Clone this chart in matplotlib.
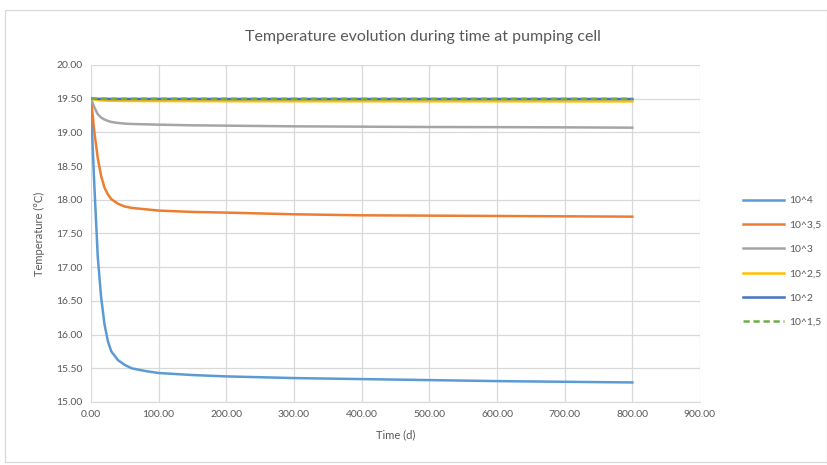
import numpy as np
import matplotlib.pyplot as plt
from matplotlib.patches import Rectangle

# time (days)
t = [0, 2, 5, 10, 15, 20, 25, 30, 40, 50, 60, 80, 100, 150, 200, 300, 400, 500, 600, 700, 800]

# temperature at pumping cell (°C) for each permeability case
T_4 = [19.5, 18.9, 18.2, 17.15, 16.55, 16.15, 15.9, 15.75, 15.62, 15.55, 15.5, 15.46, 15.43,
       15.40, 15.38, 15.355, 15.34, 15.325, 15.31, 15.30, 15.29]
T_35 = [19.5, 19.3, 19.0, 18.62, 18.35, 18.18, 18.08, 18.01, 17.94, 17.9, 17.88, 17.86, 17.84,
        17.82, 17.81, 17.785, 17.77, 17.765, 17.76, 17.755, 17.75]
T_3 = [19.5, 19.45, 19.37, 19.27, 19.22, 19.19, 19.17, 19.155, 19.14, 19.13, 19.125, 19.12, 19.115,
       19.105, 19.1, 19.09, 19.085, 19.08, 19.078, 19.075, 19.07]
T_25 = [19.5, 19.495, 19.49, 19.48, 19.475, 19.472, 19.47, 19.469, 19.468, 19.467, 19.466, 19.465, 19.465,
        19.464, 19.463, 19.462, 19.462, 19.461, 19.461, 19.46, 19.46]
T_2 = [19.5, 19.5, 19.499, 19.498, 19.497, 19.497, 19.497, 19.496, 19.496, 19.496, 19.496, 19.496, 19.496,
       19.496, 19.495, 19.495, 19.495, 19.495, 19.495, 19.495, 19.495]
T_15 = [19.5, 19.5, 19.5, 19.5, 19.5, 19.5, 19.5, 19.499, 19.499, 19.499, 19.499, 19.499, 19.499,
        19.499, 19.499, 19.499, 19.498, 19.498, 19.498, 19.498, 19.498]

labels = ["10^4", "10^3,5", "10^3", "10^2,5", "10^2", "10^1,5"]
xticks = np.arange(0, 901, 100)
yticks = np.arange(15.0, 20.01, 0.5)

plt.rcParams['font.family'] = ['Lato', 'DejaVu Sans']
txt = '#595959'

fig = plt.figure(figsize=(8.28, 4.65), dpi=100)
ax = fig.add_axes([91/828, 1 - 402/465, 609/828, 337/465])

ax.plot(t, T_4, color='#5B9BD5', lw=1.8, label=labels[0])
ax.plot(t, T_35, color='#ED7D31', lw=1.8, label=labels[1])
ax.plot(t, T_3, color='#A5A5A5', lw=1.8, label=labels[2])
ax.plot(t, T_25, color='#FFC000', lw=1.8, label=labels[3])
ax.plot(t, T_2, color='#4472C4', lw=1.8, label=labels[4])
ax.plot(t, T_15, color='#70AD47', lw=1.8, ls=(0, (2.5, 1.5)), label=labels[5])

ax.set_xlim(0, 900)
ax.set_ylim(15, 20)
ax.set_xticks(xticks)
ax.set_yticks(yticks)
ax.set_xticklabels([f"{v:.2f}" for v in xticks])
ax.set_yticklabels([f"{v:.2f}" for v in yticks])
ax.tick_params(length=0, labelsize=7.5, labelcolor=txt, pad=6)
ax.grid(True, color='#D9D9D9', lw=0.9)
ax.set_axisbelow(True)
for s in ax.spines.values():
    s.set_visible(False)
ax.spines['bottom'].set_visible(True)
ax.spines['bottom'].set_color('#D9D9D9')

ax.set_xlabel("Time (d)", fontsize=8, color=txt, labelpad=7)
ax.set_ylabel("Temperature (°C)", fontsize=8, color=txt, labelpad=8)
fig.text(423/828, 1 - 37/465, "Temperature evolution during time at pumping cell",
         ha='center', va='center', fontsize=11.5, color=txt)

fig.legend(loc='center left', bbox_to_anchor=(743/828, 1 - 261.5/465), frameon=False,
           fontsize=7.5, handlelength=3.9, handletextpad=0.5, labelspacing=1.45,
           borderpad=0, borderaxespad=0, labelcolor=txt)

fig.patches.append(Rectangle((5/828, 3/465), 822/828, 452/465, transform=fig.transFigure,
                             fill=False, edgecolor='#D9D9D9', lw=0.9))

fig.savefig('out.png', dpi=100)
